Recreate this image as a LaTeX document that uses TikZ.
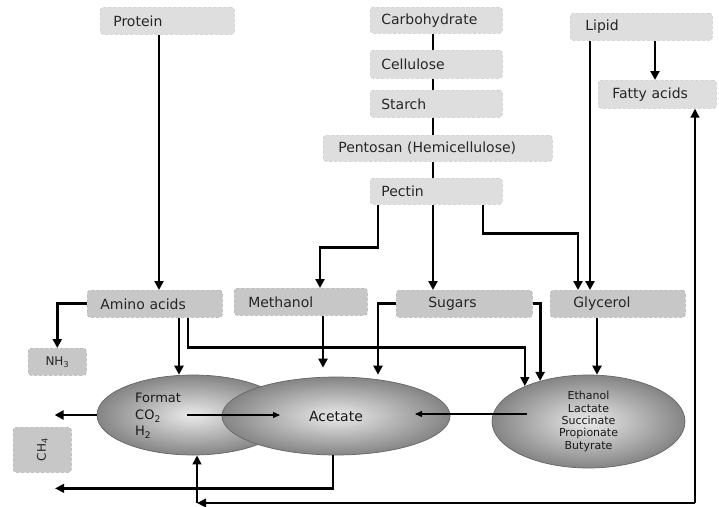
\documentclass[tikz,border=0pt]{standalone}
\usepackage{fontspec}
\setmainfont{DejaVu Sans}
\usetikzlibrary{arrows.meta,calc,shapes.geometric}
\begin{document}
\begin{tikzpicture}[x=1pt,y=-1pt,
  font=\fontsize{14}{17}\selectfont,
  boxa/.style={rectangle, rounded corners=3pt, fill=black!13, draw=black!22, densely dashed, line width=0.6pt, anchor=north west, align=left, inner ysep=0pt, minimum height=27pt, text=black!85},
  boxb/.style={boxa, fill=black!22, draw=black!32},
  arr/.style={line width=2.8pt, -{Triangle[length=9pt,width=9pt]}},
  arrb/.style={line width=2.3pt, -{Triangle[length=9pt,width=8.5pt]}},
  ln/.style={line width=2.8pt},
  thinarr/.style={line width=1.1pt, -{Triangle[length=7pt,width=6pt]}},
  ell/.style={ellipse, draw=black!60, line width=0.7pt, shading=radial, inner color=black!8, outer color=black!48, inner sep=0pt, text=black!90},
]
\useasboundingbox[fill=white] (0,0) rectangle (719,506);

% top boxes
\node[boxa, inner xsep=13pt, text width=108pt, minimum height=27pt] (protein) at (100,7) {Protein};
\node[boxa, inner xsep=11pt, text width=110pt, minimum height=26pt] (carb) at (370,7) {Carbohydrate};
\node[boxa, inner xsep=11pt, text width=110pt, minimum height=28pt] (cell) at (370,50) {Cellulose};
\node[boxa, inner xsep=11pt, text width=110pt, minimum height=27pt] (starch) at (370,90) {Starch};
\node[boxa, inner xsep=15pt, text width=199pt, minimum height=26pt] (pentosan) at (323,135) {Pentosan (Hemicellulose)};
\node[boxa, inner xsep=11pt, text width=110pt, minimum height=26pt] (pectin) at (370,178) {Pectin};
\node[boxa, inner xsep=15pt, text width=112pt, minimum height=27pt] (lipid) at (570,13) {Lipid};
\node[boxa, inner xsep=14pt, text width=90pt, minimum height=28pt] (fatty) at (598,80) {Fatty acids};

% second row
\node[boxb, inner xsep=13pt, text width=109pt] (amino) at (87,290) {Amino acids};
\node[boxb, inner xsep=14pt, text width=105pt] (methanol) at (234,288) {Methanol};
\node[boxb, inner xsep=32pt, text width=72pt] (sugars) at (396,290) {Sugars};
\node[boxb, inner xsep=23pt, text width=89pt] (glycerol) at (550,290) {Glycerol};
\node[boxb, inner xsep=4pt, text width=50pt, align=center, font=\fontsize{12}{14}\selectfont] (nh3) at (28,348) {NH\textsubscript{3}};
\node[boxb, inner xsep=4pt, text width=50pt, align=center, minimum height=45pt, font=\fontsize{12}{14}\selectfont] (ch4) at (13,427) {\rotatebox{90}{CH\textsubscript{4}}};

% ellipses
\node[ell, minimum width=192pt, minimum height=80pt] (format) at (193,415) {};
\node[anchor=west, align=left, inner sep=0pt, text=black!90, font=\fontsize{13}{16.5}\selectfont] (ftext) at (135,416) {Format\\CO\textsubscript{2}\\H\textsubscript{2}};
\node[ell, minimum width=228pt, minimum height=78pt] (acetate) at (336,416) {Acetate};
\node[ell, minimum width=193pt, minimum height=93pt, align=center, font=\fontsize{11}{12.3}\selectfont] (right) at (588.5,421.5) {Ethanol\\Lactate\\Succinate\\Propionate\\Butyrate};

% carbohydrate chain
\draw[ln] (carb.south -| 433,0) -- (cell.north -| 433,0);
\draw[ln] (cell.south -| 433,0) -- (starch.north -| 433,0);
\draw[ln] (starch.south -| 433,0) -- (pentosan.north -| 433,0);
\draw[ln] (pentosan.south -| 433,0) -- (pectin.north -| 433,0);

% protein / lipid
\draw[arr] (protein.south -| 159,0) -- (amino.north -| 159,0);
\draw[arr] (lipid.south -| 655,0) -- (fatty.north -| 655,0);
\draw[arr] (lipid.south -| 590,0) -- (glycerol.north -| 590,0);

% pectin branches
\draw[arr] (pectin.south -| 378,0) -- ++(0,43) -| (methanol.north -| 320,0);
\draw[arr] (pectin.south -| 433,0) -- (sugars.north -| 433,0);
\draw[arr] (pectin.south -| 483,0) -- ++(0,29) -| (glycerol.north -| 578,0);

% amino acids
\draw[arr] (amino.west) -| (nh3.north);
\draw[arr] (amino.south -| 179,0) -- (format.north -| 179,0);
\draw[arrb] (amino.south -| 188,0) -- ++(0,30) -| (right.151);

% methanol, sugars, glycerol
\draw[arr] (methanol.south -| 323,0) -- ($(acetate.north -| 323,0)+(0,-9)$);
\draw[arr] (sugars.west) -| ($(acetate.north -| 378,0)+(0,-2)$);
\draw[arr] (sugars.east) -| (right.140);
\draw[arr] (glycerol.south -| 597,0) -- (right.north -| 597,0);

% ellipse outputs
\draw[arr] (format.west) -- ++(-42,0);
\draw[thinarr] ($(format.center)+(-6,0)$) -- ($(acetate.center)+(-56,-1)$);
\draw[thinarr] ($(right.center)+(-62,-7.5)$) -- ($(acetate.center)+(79,-2)$);
\draw[arrb] (acetate.south -| 333,0) -- ++(0,33) -- ++(-278,0);

% loop back
\coordinate (lb) at (695,503);
\coordinate (lc) at (197,503);
\draw[arrb] (lb) -- (lc);
\draw[arrb] (lc) -- (format.south -| 197,0);
\draw[arrb] (lb) -- (fatty.south -| 695,0);
\end{tikzpicture}
\end{document}
